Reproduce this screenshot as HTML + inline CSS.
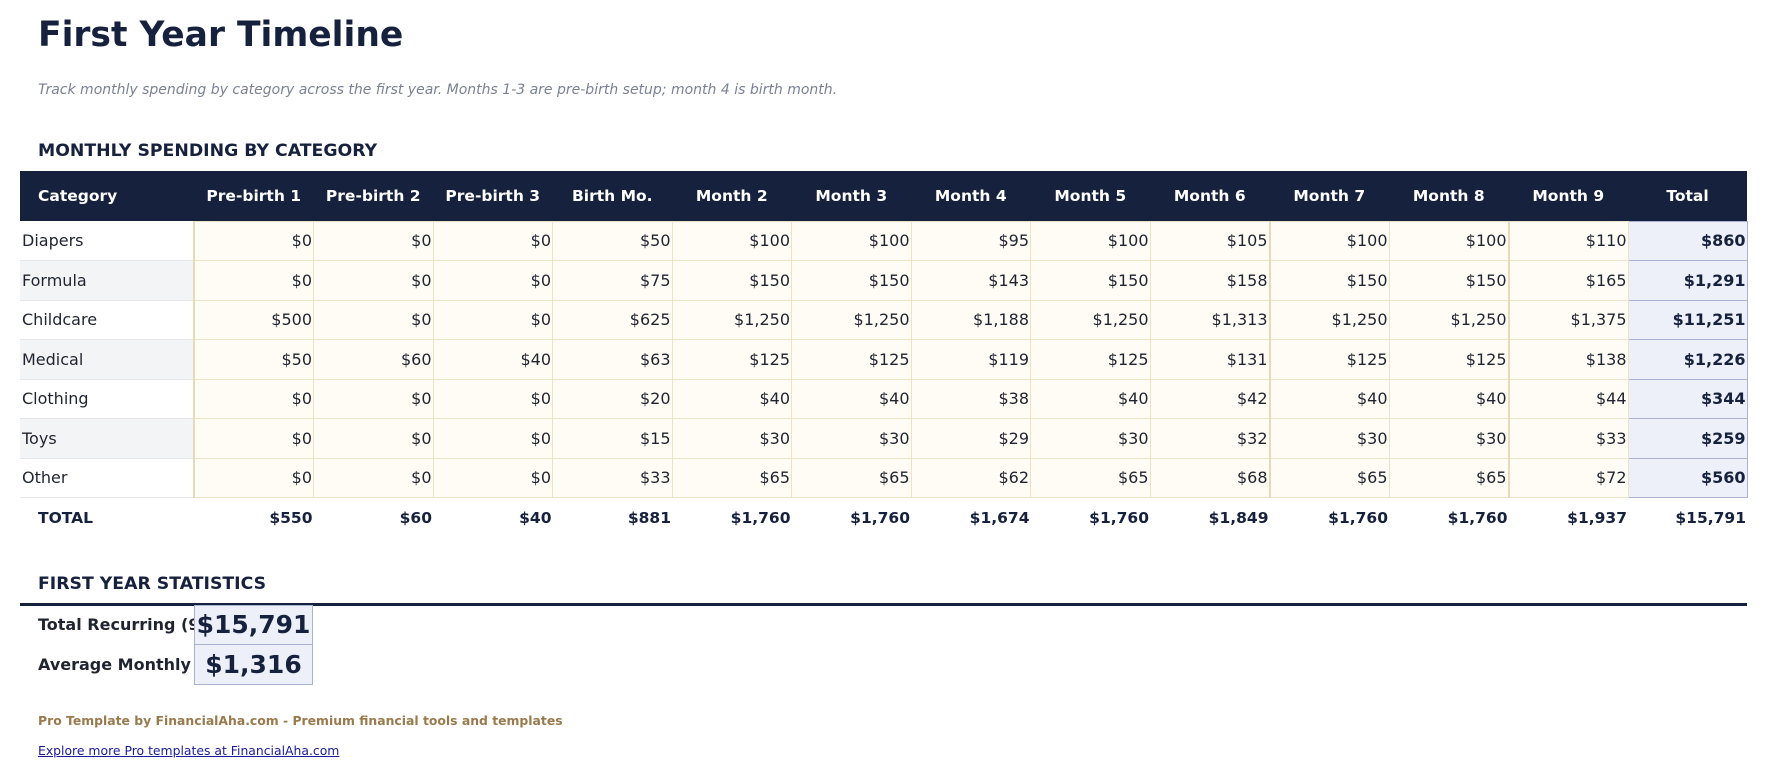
<!DOCTYPE html>
<html><head><meta charset="utf-8"><style>
*{margin:0;padding:0;box-sizing:border-box}
body{width:1767px;height:777px;background:#fff;font-family:"DejaVu Sans","Liberation Sans",sans-serif;color:#1f2430;position:relative;overflow:hidden}
.a{position:absolute;white-space:nowrap}
h1{position:absolute;left:38px;top:15px;font-size:34.5px;font-weight:bold;color:#16213e}
.sub{left:38px;top:82px;font-size:14px;font-style:italic;color:#7a8194}
.sec{left:38px;font-size:17.3px;font-weight:bold;color:#16213e}
table{position:absolute;left:20px;top:171px;border-collapse:collapse;table-layout:fixed;width:1727px}
th{background:#16213e;color:#fff;font-size:15.5px;font-weight:bold;height:50px;text-align:center}
th:first-child{text-align:left;padding-left:18px}
td{height:39.5px;font-size:16px;text-align:right;padding-right:1px;background:#fefcf4;border:1px solid #ece3c6}
td:first-child{text-align:left;padding-left:2px;background:#fff;border:none;border-bottom:1px solid #e4e6ea;border-right:2px solid #e6dab8}
tr.alt td:first-child{background:#f3f4f6}
td.t{background:#edf0f8;border:1px solid #a9b3d0;font-weight:bold;color:#16213e}
tr.tot td{background:#fff;border:none;font-weight:bold;font-size:15.5px;color:#16213e}
tr.tot td:first-child{padding-left:18px;border-top:1px solid #cfd3da}
tr.tot td{border-top:1px solid #cfd3da}
.c4{border-right:2px solid #e6dab8!important}
</style></head><body>
<h1>First Year Timeline</h1>
<div class="a sub">Track monthly spending by category across the first year. Months 1-3 are pre-birth setup; month 4 is birth month.</div>
<div class="a sec" style="top:141px">MONTHLY SPENDING BY CATEGORY</div>
<table>
<colgroup><col style="width:174px"><col span="12" style="width:119.5px"><col style="width:119px"></colgroup>
<tr><th>Category</th><th>Pre-birth 1</th><th>Pre-birth 2</th><th>Pre-birth 3</th><th>Birth Mo.</th><th>Month 2</th><th>Month 3</th><th>Month 4</th><th>Month 5</th><th>Month 6</th><th>Month 7</th><th>Month 8</th><th>Month 9</th><th>Total</th></tr>
<tr><td>Diapers</td><td>$0</td><td>$0</td><td>$0</td><td>$50</td><td>$100</td><td>$100</td><td>$95</td><td>$100</td><td class="c4">$105</td><td>$100</td><td class="c4">$100</td><td>$110</td><td class="t">$860</td></tr>
<tr class="alt"><td>Formula</td><td>$0</td><td>$0</td><td>$0</td><td>$75</td><td>$150</td><td>$150</td><td>$143</td><td>$150</td><td class="c4">$158</td><td>$150</td><td class="c4">$150</td><td>$165</td><td class="t">$1,291</td></tr>
<tr><td>Childcare</td><td>$500</td><td>$0</td><td>$0</td><td>$625</td><td>$1,250</td><td>$1,250</td><td>$1,188</td><td>$1,250</td><td class="c4">$1,313</td><td>$1,250</td><td class="c4">$1,250</td><td>$1,375</td><td class="t">$11,251</td></tr>
<tr class="alt"><td>Medical</td><td>$50</td><td>$60</td><td>$40</td><td>$63</td><td>$125</td><td>$125</td><td>$119</td><td>$125</td><td class="c4">$131</td><td>$125</td><td class="c4">$125</td><td>$138</td><td class="t">$1,226</td></tr>
<tr><td>Clothing</td><td>$0</td><td>$0</td><td>$0</td><td>$20</td><td>$40</td><td>$40</td><td>$38</td><td>$40</td><td class="c4">$42</td><td>$40</td><td class="c4">$40</td><td>$44</td><td class="t">$344</td></tr>
<tr class="alt"><td>Toys</td><td>$0</td><td>$0</td><td>$0</td><td>$15</td><td>$30</td><td>$30</td><td>$29</td><td>$30</td><td class="c4">$32</td><td>$30</td><td class="c4">$30</td><td>$33</td><td class="t">$259</td></tr>
<tr><td>Other</td><td>$0</td><td>$0</td><td>$0</td><td>$33</td><td>$65</td><td>$65</td><td>$62</td><td>$65</td><td class="c4">$68</td><td>$65</td><td class="c4">$65</td><td>$72</td><td class="t">$560</td></tr>
<tr class="tot"><td>TOTAL</td><td>$550</td><td>$60</td><td>$40</td><td>$881</td><td>$1,760</td><td>$1,760</td><td>$1,674</td><td>$1,760</td><td>$1,849</td><td>$1,760</td><td>$1,760</td><td>$1,937</td><td>$15,791</td></tr>
</table>
<div class="a sec" style="top:574px">FIRST YEAR STATISTICS</div>
<div class="a" style="left:20px;top:603px;width:1727px;height:3px;background:#16213e"></div>
<div class="a" style="left:38px;top:605px;width:156px;height:40px;overflow:hidden;font-size:16px;font-weight:bold;line-height:40px;color:#1f2430">Total Recurring (9 months)</div>
<div class="a" style="left:38px;top:645px;width:156px;height:40px;overflow:hidden;font-size:16px;font-weight:bold;line-height:40px;color:#1f2430">Average Monthly Cost</div>
<div class="a" style="left:194px;top:605px;width:119px;height:40px;background:#edf0f8;border:1px solid #a9b3d0;font-size:25px;font-weight:bold;color:#16213e;text-align:center;line-height:38px">$15,791</div>
<div class="a" style="left:194px;top:644px;width:119px;height:41px;background:#edf0f8;border:1px solid #a9b3d0;font-size:25px;font-weight:bold;color:#16213e;text-align:center;line-height:39px">$1,316</div>
<div class="a" style="left:38px;top:713px;font-size:12.4px;font-weight:bold;color:#9a7a4c">Pro Template by FinancialAha.com - Premium financial tools and templates</div>
<div class="a" style="left:38px;top:743px;font-size:12.4px;color:#1a1a9a;text-decoration:underline">Explore more Pro templates at FinancialAha.com</div>
</body></html>
